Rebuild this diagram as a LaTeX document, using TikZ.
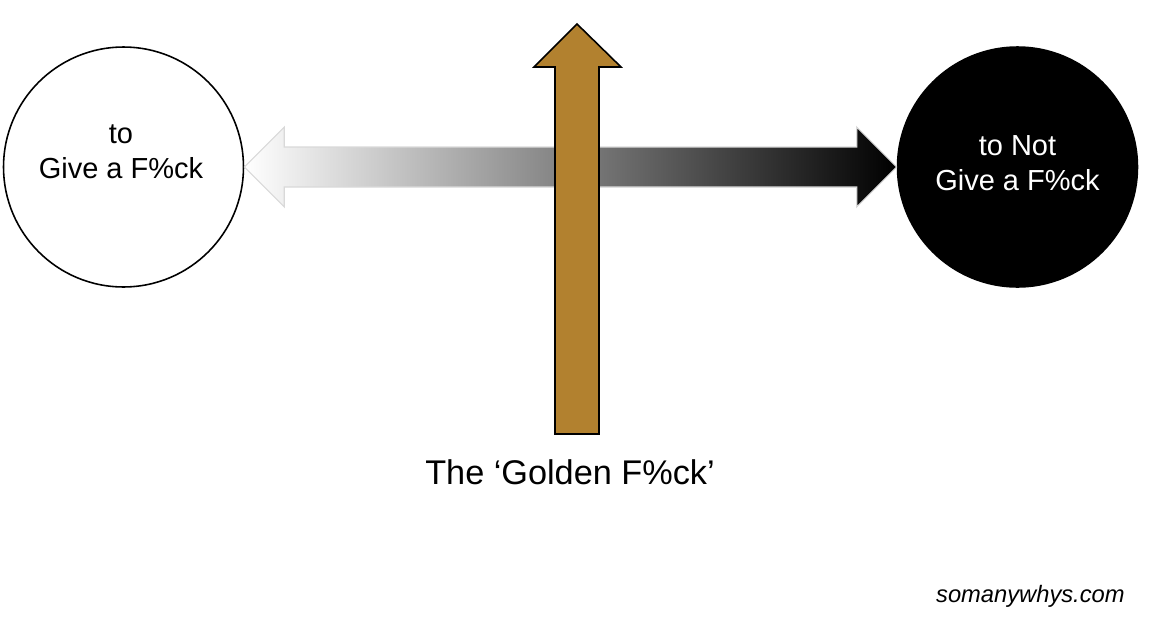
\documentclass[tikz,border=0pt]{standalone}
\usepackage{fontspec}
\setmainfont{Liberation Sans}
\usepackage{tikz}
\usetikzlibrary{positioning, calc}

\definecolor{golden}{RGB}{178,129,47}

\begin{document}
\begin{tikzpicture}[
    x=0.02cm, y=-0.02cm,
    fnode/.style={draw, circle, minimum size=4.8cm, inner sep=0pt, line width=0.9pt},
    ftext/.style={align=center, inner sep=0pt, font=\fontsize{16.5}{20}\selectfont}
]
\useasboundingbox (0,0) rectangle (1150,619);

\node[fnode, fill=white] (give) at (123.5,167) {};
\node[fnode, fill=black] (notgive) at (1017.5,167) {};
\node[ftext] (givetxt) at (121,152) {to\\Give a F\%ck};
\node[ftext, text=white] (notgivetxt) at (1017.5,163) {to Not\\Give a F\%ck};

% shaded double arrow between the circles
\path[left color=white, right color=black, draw=black!15, line width=0.6pt]
  (give.east) -- ($(give.east)+(40,-40)$) -- ($(give.east)+(40,-20)$)
  -- ($(notgive.west)+(-40,-20)$) -- ($(notgive.west)+(-40,-40)$)
  -- (notgive.west)
  -- ($(notgive.west)+(-40,40)$) -- ($(notgive.west)+(-40,20)$)
  -- ($(give.east)+(40,20)$) -- ($(give.east)+(40,40)$) -- cycle;

% golden arrow
\node[font=\fontsize{19.5}{23}\selectfont, anchor=base] (golden) at (570,484) {The ‘Golden F\%ck’};
\coordinate (gbase) at (577,434);
\draw[fill=golden, line width=0.9pt, line join=miter]
  ($(gbase)+(-22,0)$) -- ($(gbase)+(-22,-367)$) -- ($(gbase)+(-43,-367)$)
  -- ($(gbase)+(0,-410)$)
  -- ($(gbase)+(44,-367)$) -- ($(gbase)+(22,-367)$) -- ($(gbase)+(22,0)$) -- cycle;

\node[font=\fontsize{13.5}{16}\selectfont\itshape, inner sep=0pt, anchor=base east] (site) at (1125,602) {somanywhys.com};
\end{tikzpicture}
\end{document}
